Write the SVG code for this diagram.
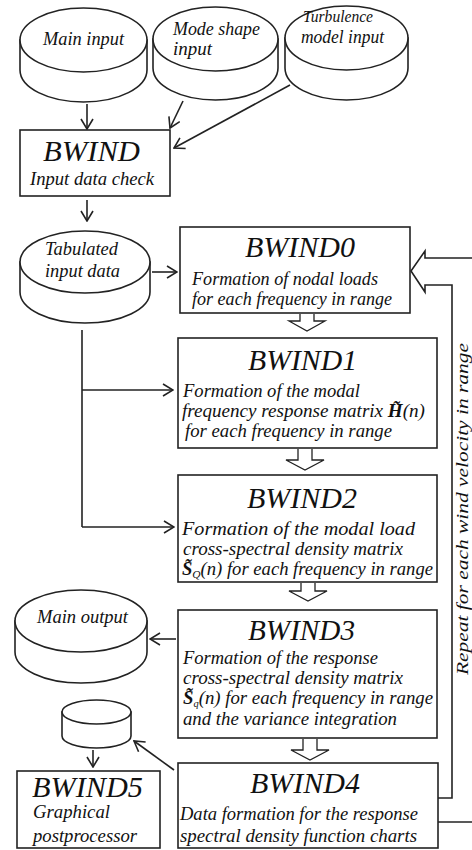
<svg xmlns="http://www.w3.org/2000/svg" width="472" height="850" viewBox="0 0 472 850">
<style>
.box{fill:#fff;stroke:#222;stroke-width:1.6}
.cyl{fill:#fff;stroke:#222;stroke-width:1.6}
.ln{fill:none;stroke:#222;stroke-width:1.6}
.ha{fill:none;stroke:#222;stroke-width:1.3}
.ar{fill:none;stroke:#222;stroke-width:1.6;marker-end:url(#ah)}
text{font-family:"Liberation Serif","Times New Roman",serif;font-style:italic;fill:#111}
.t{font-size:30px}
.b{font-size:18px}
.s{font-size:17px}
.bold{font-weight:bold}
</style>
<defs>
<marker id="ah" viewBox="0 0 12 14" refX="11" refY="7" markerWidth="12" markerHeight="14" markerUnits="userSpaceOnUse" orient="auto">
<path d="M1,1 L11,7 L1,13" fill="none" stroke="#222" stroke-width="1.6"/>
</marker>
</defs>
<rect width="472" height="850" fill="#fff"/>

<g id="connectors">
<line class="ar" x1="87" y1="104" x2="87" y2="129"/>
<line class="ar" x1="183" y1="101" x2="170" y2="128"/>
<line class="ar" x1="290" y1="85" x2="174" y2="148"/>
<line class="ar" x1="87" y1="200" x2="87" y2="221"/>
<line class="ar" x1="152" y1="272" x2="177" y2="272"/>
<path class="ln" d="M82,330 V527"/>
<line class="ar" x1="82" y1="390" x2="173" y2="390"/>
<line class="ar" x1="82" y1="527" x2="174" y2="527"/>
<line class="ar" x1="176" y1="639" x2="150" y2="639"/>
<line class="ar" x1="174" y1="770" x2="134" y2="741"/>
<line class="ar" x1="93" y1="750" x2="93" y2="767"/>
<path class="ln" d="M472,258 H425 V251 L411,271 L425,292 V285 H452 V798 H438"/>
<path class="ln" d="M438,822 H472"/>
<path class="ha" d="M300,314 V321 H289 L307,331 L325,321 H314 V314"/>
<path class="ha" d="M298,449 V460 H286 L305,470 L324,460 H312 V449"/>
<path class="ha" d="M301,583 V591 H289 L308,601 L327,591 H315 V583"/>
<path class="ha" d="M303,739 V750 H291 L310,760 L329,750 H317 V739"/>
</g>

<g id="main-input">
<path class="cyl" d="M20,40 V70 A63.5,32 0 0 0 147,70 V40 Z"/>
<ellipse class="cyl" cx="83.5" cy="40" rx="63.5" ry="32"/>
<text class="b" x="43" y="45" textLength="81" lengthAdjust="spacingAndGlyphs">Main input</text>
</g>
<g id="mode-shape-input">
<path class="cyl" d="M153,39 V68 A62.5,32 0 0 0 278,68 V39 Z"/>
<ellipse class="cyl" cx="215.5" cy="39" rx="62.5" ry="32"/>
<text class="b" x="173" y="35" textLength="87" lengthAdjust="spacingAndGlyphs">Mode shape</text>
<text class="b" x="173" y="55" textLength="39" lengthAdjust="spacingAndGlyphs">input</text>
</g>
<g id="turbulence-model-input">
<path class="cyl" d="M285,38 V68 A61.5,32 0 0 0 408,68 V38 Z"/>
<ellipse class="cyl" cx="346.5" cy="38" rx="61.5" ry="32"/>
<text class="s" x="303" y="22" textLength="70" lengthAdjust="spacingAndGlyphs">Turbulence</text>
<text class="b" x="301" y="43" textLength="83" lengthAdjust="spacingAndGlyphs">model input</text>
</g>

<g id="bwind">
<rect class="box" x="20" y="130" width="150" height="66"/>
<text class="t" x="43" y="161" textLength="97" lengthAdjust="spacingAndGlyphs">BWIND</text>
<text class="b" x="30" y="185" textLength="124" lengthAdjust="spacingAndGlyphs">Input data check</text>
</g>

<g id="tabulated-input-data">
<path class="cyl" d="M20,262 V292 A65,31 0 0 0 150,292 V262 Z"/>
<ellipse class="cyl" cx="85" cy="262" rx="65" ry="31"/>
<text class="b" x="45" y="255" textLength="73" lengthAdjust="spacingAndGlyphs">Tabulated</text>
<text class="b" x="45" y="277" textLength="75" lengthAdjust="spacingAndGlyphs">input data</text>
</g>

<g id="bwind0">
<rect class="box" x="180" y="227" width="230" height="86"/>
<text class="t" x="245" y="257" textLength="110" lengthAdjust="spacingAndGlyphs">BWIND0</text>
<text class="b" x="192" y="285" textLength="186" lengthAdjust="spacingAndGlyphs">Formation of nodal loads</text>
<text class="b" x="192" y="305" textLength="200" lengthAdjust="spacingAndGlyphs">for each frequency in range</text>
</g>

<g id="bwind1">
<rect class="box" x="178" y="338" width="259" height="110"/>
<text class="t" x="248" y="370" textLength="109" lengthAdjust="spacingAndGlyphs">BWIND1</text>
<text class="b" x="183" y="397" textLength="177" lengthAdjust="spacingAndGlyphs">Formation of the modal</text>
<text class="b" x="182" y="417" textLength="243" lengthAdjust="spacingAndGlyphs">frequency response matrix <tspan class="bold">H̃</tspan>(n)</text>
<text class="b" x="185" y="437" textLength="207" lengthAdjust="spacingAndGlyphs">for each frequency in range</text>
</g>

<g id="bwind2">
<rect class="box" x="178" y="475" width="259" height="107"/>
<text class="t" x="247" y="508" textLength="110" lengthAdjust="spacingAndGlyphs">BWIND2</text>
<text class="b" x="182" y="535" textLength="233" lengthAdjust="spacingAndGlyphs">Formation of the modal load</text>
<text class="b" x="183" y="555" textLength="220" lengthAdjust="spacingAndGlyphs">cross-spectral density matrix</text>
<text class="b" x="182" y="575" textLength="251" lengthAdjust="spacingAndGlyphs"><tspan class="bold">S̃</tspan><tspan font-size="11" dy="3">Q</tspan><tspan dy="-3">(n) for each frequency in range</tspan></text>
</g>

<g id="bwind3">
<rect class="box" x="178" y="610" width="259" height="128"/>
<text class="t" x="248" y="640" textLength="107" lengthAdjust="spacingAndGlyphs">BWIND3</text>
<text class="b" x="183" y="664" textLength="195" lengthAdjust="spacingAndGlyphs">Formation of the response</text>
<text class="b" x="183" y="684" textLength="220" lengthAdjust="spacingAndGlyphs">cross-spectral density matrix</text>
<text class="b" x="183" y="704" textLength="250" lengthAdjust="spacingAndGlyphs"><tspan class="bold">S̃</tspan><tspan font-size="10" dy="3">q</tspan><tspan dy="-3">(n) for each frequency in range</tspan></text>
<text class="b" x="183" y="725" textLength="214" lengthAdjust="spacingAndGlyphs">and the variance integration</text>
</g>

<g id="bwind4">
<rect class="box" x="178" y="763" width="260" height="85"/>
<text class="t" x="250" y="793" textLength="110" lengthAdjust="spacingAndGlyphs">BWIND4</text>
<text class="b" x="180" y="820" textLength="238" lengthAdjust="spacingAndGlyphs">Data formation for the response</text>
<text class="b" x="180" y="842" textLength="237" lengthAdjust="spacingAndGlyphs">spectral density function charts</text>
</g>

<g id="main-output">
<path class="cyl" d="M15,621 V652 A66,31 0 0 0 147,652 V621 Z"/>
<ellipse class="cyl" cx="81" cy="621" rx="66" ry="31"/>
<text class="b" x="37" y="623" textLength="91" lengthAdjust="spacingAndGlyphs">Main output</text>
</g>

<g id="chart-data">
<path class="cyl" d="M62,712 V736 A34.5,12 0 0 0 131,736 V712 Z"/>
<ellipse class="cyl" cx="96.5" cy="712" rx="34.5" ry="12"/>
</g>

<g id="bwind5">
<rect class="box" x="17" y="771" width="143" height="77"/>
<text class="t" x="32" y="797" textLength="111" lengthAdjust="spacingAndGlyphs">BWIND5</text>
<text class="b" x="33" y="818" textLength="77" lengthAdjust="spacingAndGlyphs">Graphical</text>
<text class="b" x="33" y="842" textLength="104" lengthAdjust="spacingAndGlyphs">postprocessor</text>
</g>

<g id="loop-label">
<text class="s" transform="translate(468,675) rotate(-90)" x="0" y="0" textLength="332" lengthAdjust="spacingAndGlyphs">Repeat for each wind velocity in range</text>
</g>
</svg>
